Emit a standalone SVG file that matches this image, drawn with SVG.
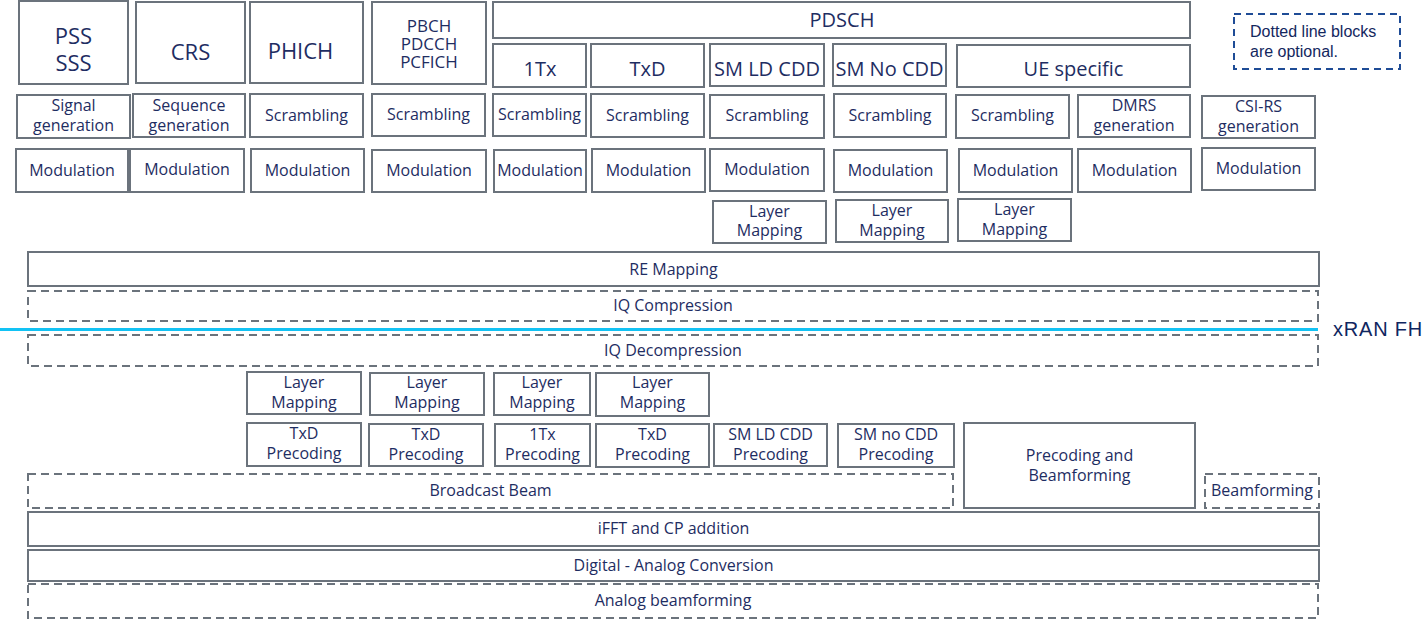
<svg xmlns="http://www.w3.org/2000/svg" width="1424" height="619" viewBox="0 0 1424 619">
<style>
  .b{fill:#fff;stroke:#6b737c;stroke-width:2}
  .d{fill:#fff;stroke:#6b737c;stroke-width:2;stroke-dasharray:8 5}
  text{font-family:"Open Sans","Noto Sans",sans-serif;fill:#1e2d62;text-anchor:middle}
  .s16{font-size:16px}
  .s17{font-size:17px}
  .s20{font-size:20px}
  .s22{font-size:22px}
  .lg{font-family:"Liberation Sans",Arial,sans-serif;fill:#13275e;text-anchor:start;font-size:16px}
  .fh{font-family:"Liberation Sans",Arial,sans-serif;fill:#0f2660;text-anchor:start;font-size:20px;letter-spacing:0.8px}
</style>
<rect width="1424" height="619" fill="#fff"/>

<!-- top row channels -->
<g id="pss"><rect class="b" x="19" y="1" width="109" height="83"/><text class="s22" x="73.5" y="43.5">PSS</text><text class="s22" x="73.5" y="71">SSS</text></g>
<g id="crs"><rect class="b" x="136" y="2" width="109" height="81"/><text class="s22" x="190.5" y="59.5">CRS</text></g>
<g id="phich"><rect class="b" x="250" y="2" width="113" height="81"/><text class="s22" x="300.5" y="59">PHICH</text></g>
<g id="pbch"><rect class="b" x="372" y="2" width="114" height="82"/><text class="s17" x="429" y="31.5">PBCH</text><text class="s17" x="429" y="49.5">PDCCH</text><text class="s17" x="429" y="67.5">PCFICH</text></g>
<g id="pdsch"><rect class="b" x="493" y="2" width="697" height="36"/><text class="s20" x="842" y="27">PDSCH</text></g>
<g id="tx1"><rect class="b" x="493" y="44" width="93" height="43"/><text class="s20" x="540" y="76">1Tx</text></g>
<g id="txd"><rect class="b" x="591" y="44" width="113" height="43"/><text class="s20" x="647.5" y="76">TxD</text></g>
<g id="smld"><rect class="b" x="710" y="44" width="114" height="42"/><text class="s20" x="767" y="75.5">SM LD CDD</text></g>
<g id="smno"><rect class="b" x="833" y="44" width="113" height="42"/><text class="s20" x="889.5" y="75.5">SM No CDD</text></g>
<g id="ue"><rect class="b" x="957" y="45" width="233" height="42"/><text class="s20" x="1073.5" y="76">UE specific</text></g>

<!-- legend -->
<g id="legend"><rect x="1234" y="14" width="166" height="55" fill="#fff" stroke="#1f4c96" stroke-width="2" stroke-dasharray="7 5"/><text class="lg" x="1250" y="36.5">Dotted line blocks</text><text class="lg" x="1250" y="56.5">are optional.</text></g>

<!-- row 2 -->
<g id="siggen"><rect class="b" x="17" y="95" width="113" height="43"/><text class="s16" x="73.5" y="111">Signal</text><text class="s16" x="73.5" y="130.5">generation</text></g>
<g id="seqgen"><rect class="b" x="133" y="94" width="112" height="43"/><text class="s16" x="189" y="110.5">Sequence</text><text class="s16" x="189" y="130.5">generation</text></g>
<g id="scr-phich"><rect class="b" x="250" y="94" width="113" height="43"/><text class="s16" x="306.5" y="120.5">Scrambling</text></g>
<g id="scr-pbch"><rect class="b" x="372" y="94" width="113" height="42"/><text class="s16" x="428.5" y="119.5">Scrambling</text></g>
<g id="scr-1tx"><rect class="b" x="493" y="94" width="93" height="42"/><text class="s16" x="539.5" y="119.5">Scrambling</text></g>
<g id="scr-txd"><rect class="b" x="591" y="94" width="113" height="43"/><text class="s16" x="647.5" y="120.5">Scrambling</text></g>
<g id="scr-smld"><rect class="b" x="710" y="95" width="114" height="43"/><text class="s16" x="767" y="121">Scrambling</text></g>
<g id="scr-smno"><rect class="b" x="834" y="94" width="112" height="43"/><text class="s16" x="890" y="120.5">Scrambling</text></g>
<g id="scr-ue"><rect class="b" x="956" y="95" width="113" height="43"/><text class="s16" x="1012.5" y="121">Scrambling</text></g>
<g id="dmrs"><rect class="b" x="1078" y="95" width="112" height="42"/><text class="s16" x="1134" y="111">DMRS</text><text class="s16" x="1134" y="130.5">generation</text></g>
<g id="csirs"><rect class="b" x="1202" y="96" width="113" height="42"/><text class="s16" x="1258.5" y="112">CSI-RS</text><text class="s16" x="1258.5" y="131.5">generation</text></g>

<!-- row 3 modulation -->
<g id="mod-pss"><rect class="b" x="16" y="149" width="112" height="43"/><text class="s16" x="72" y="176">Modulation</text></g>
<g id="mod-crs"><rect class="b" x="130" y="149" width="114" height="43"/><text class="s16" x="187" y="175">Modulation</text></g>
<g id="mod-phich"><rect class="b" x="251" y="149" width="113" height="43"/><text class="s16" x="307.5" y="176">Modulation</text></g>
<g id="mod-pbch"><rect class="b" x="372" y="150" width="114" height="42"/><text class="s16" x="429" y="176">Modulation</text></g>
<g id="mod-1tx"><rect class="b" x="494" y="150" width="92" height="42"/><text class="s16" x="540" y="176">Modulation</text></g>
<g id="mod-txd"><rect class="b" x="592" y="149" width="113" height="43"/><text class="s16" x="648.5" y="176">Modulation</text></g>
<g id="mod-smld"><rect class="b" x="710" y="149" width="114" height="42"/><text class="s16" x="767" y="175">Modulation</text></g>
<g id="mod-smno"><rect class="b" x="834" y="150" width="113" height="42"/><text class="s16" x="890.5" y="176">Modulation</text></g>
<g id="mod-ue"><rect class="b" x="959" y="149" width="113" height="43"/><text class="s16" x="1015.5" y="176">Modulation</text></g>
<g id="mod-dmrs"><rect class="b" x="1078" y="149" width="113" height="43"/><text class="s16" x="1134.5" y="176">Modulation</text></g>
<g id="mod-csirs"><rect class="b" x="1202" y="148" width="113" height="42"/><text class="s16" x="1258.5" y="173.5">Modulation</text></g>

<!-- row 4 layer mapping (top) -->
<g id="lm-smld"><rect class="b" x="713" y="201" width="113" height="42"/><text class="s16" x="769.5" y="216.5">Layer</text><text class="s16" x="769.5" y="236">Mapping</text></g>
<g id="lm-smno"><rect class="b" x="836" y="200" width="112" height="42"/><text class="s16" x="892" y="215.5">Layer</text><text class="s16" x="892" y="235.5">Mapping</text></g>
<g id="lm-ue"><rect class="b" x="958" y="199" width="113" height="42"/><text class="s16" x="1014.5" y="215">Layer</text><text class="s16" x="1014.5" y="235">Mapping</text></g>

<!-- wide rows -->
<g id="remap"><rect class="b" x="28" y="252" width="1291" height="34"/><text class="s16" x="673.5" y="274.5">RE Mapping</text></g>
<g id="iqcomp"><rect class="d" x="28" y="291" width="1290" height="30"/><text class="s16" x="673" y="311">IQ Compression</text></g>

<g id="fh">
  <line x1="0" y1="329.5" x2="1318" y2="329.5" stroke="#12c2f4" stroke-width="3"/>
  <text class="fh" x="1333" y="336">xRAN FH</text>
</g>

<g id="iqdecomp"><rect class="d" x="28" y="335" width="1290" height="31"/><text class="s16" x="673" y="355.5">IQ Decompression</text></g>

<!-- lower layer mapping -->
<g id="lm-1"><rect class="b" x="247" y="372" width="114" height="42"/><text class="s16" x="304" y="387.5">Layer</text><text class="s16" x="304" y="407.5">Mapping</text></g>
<g id="lm-2"><rect class="b" x="370" y="373" width="114" height="42"/><text class="s16" x="427" y="388">Layer</text><text class="s16" x="427" y="408">Mapping</text></g>
<g id="lm-3"><rect class="b" x="494" y="373" width="96" height="42"/><text class="s16" x="542" y="388">Layer</text><text class="s16" x="542" y="408">Mapping</text></g>
<g id="lm-4"><rect class="b" x="596" y="373" width="113" height="43"/><text class="s16" x="652.5" y="388">Layer</text><text class="s16" x="652.5" y="408">Mapping</text></g>

<!-- precoding -->
<g id="pre-1"><rect class="b" x="247" y="423" width="114" height="43"/><text class="s16" x="304" y="439">TxD</text><text class="s16" x="304" y="459">Precoding</text></g>
<g id="pre-2"><rect class="b" x="369" y="424" width="114" height="42"/><text class="s16" x="426" y="439.5">TxD</text><text class="s16" x="426" y="459.5">Precoding</text></g>
<g id="pre-3"><rect class="b" x="495" y="424" width="95" height="42"/><text class="s16" x="542.5" y="439.5">1Tx</text><text class="s16" x="542.5" y="459.5">Precoding</text></g>
<g id="pre-4"><rect class="b" x="596" y="424" width="113" height="43"/><text class="s16" x="652.5" y="439.5">TxD</text><text class="s16" x="652.5" y="459.5">Precoding</text></g>
<g id="pre-5"><rect class="b" x="714" y="424" width="113" height="42"/><text class="s16" x="770.5" y="439.5">SM LD CDD</text><text class="s16" x="770.5" y="459.5">Precoding</text></g>
<g id="pre-6"><rect class="b" x="838" y="424" width="116" height="43"/><text class="s16" x="896" y="439.5">SM no CDD</text><text class="s16" x="896" y="459.5">Precoding</text></g>
<g id="pbf"><rect class="b" x="964" y="423" width="231" height="85"/><text class="s16" x="1079.5" y="460.5">Precoding and</text><text class="s16" x="1079.5" y="480.5">Beamforming</text></g>

<g id="bbeam"><rect class="d" x="28" y="474" width="925" height="34"/><text class="s16" x="490.5" y="495.5">Broadcast Beam</text></g>
<g id="bf"><rect class="d" x="1205" y="474" width="114" height="34"/><text class="s16" x="1262" y="495.5">Beamforming</text></g>

<g id="ifft"><rect class="b" x="28" y="512" width="1291" height="34"/><text class="s16" x="673.5" y="534">iFFT and CP addition</text></g>
<g id="dac"><rect class="b" x="28" y="550" width="1291" height="31"/><text class="s16" x="673.5" y="570.5">Digital - Analog Conversion</text></g>
<g id="abf"><rect class="d" x="28" y="584" width="1290" height="34"/><text class="s16" x="673" y="606">Analog beamforming</text></g>

<g id="connectors"></g>
</svg>
